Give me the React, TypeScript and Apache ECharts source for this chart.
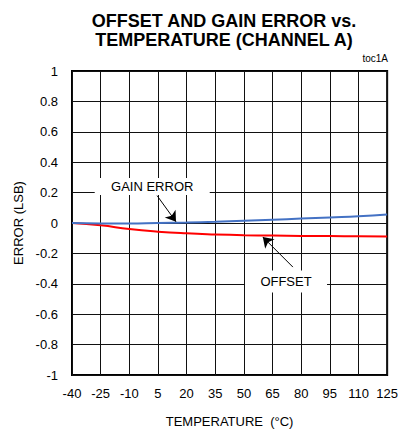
import React, { useEffect, useRef } from "react";
import * as echarts from "echarts";

const temperatures = ["-40", "-25", "-10", "5", "20", "35", "50", "65", "80", "95", "110", "125"];
const gainError = [0, -0.003, -0.003, 0.0, 0.003, 0.008, 0.014, 0.021, 0.029, 0.037, 0.045, 0.056];
const offsetError = [0, -0.015, -0.04, -0.057, -0.068, -0.075, -0.08, -0.083, -0.085, -0.086, -0.087, -0.088];
const yTicks = [-1, -0.8, -0.6, -0.4, -0.2, 0, 0.2, 0.4, 0.6, 0.8, 1];

// annotation anchors in data space (x = temperature index, y = error)
const gainLabelAt = [2.8, 0.24];
const gainArrow = [[2.97, 0.18], [3.63, 0.008]];
const offsetLabelAt = [7.47, -0.385];
const offsetArrow = [[7.71, -0.29], [6.66, -0.092]];

const FONT = "'Liberation Sans', Arial, sans-serif";

export default function App() {
  const ref = useRef<HTMLDivElement>(null);
  useEffect(() => {
    if (!ref.current) return;
    const chart = echarts.init(ref.current, null, { renderer: "svg" });
    const fmtY = (v: number) => String(parseFloat(v.toFixed(1)));
    chart.setOption({
      animation: false,
      backgroundColor: "#fff",
      title: {
        text: "OFFSET AND GAIN ERROR vs.\nTEMPERATURE (CHANNEL A)",
        left: 219,
        top: 6,
        textAlign: "center",
        textStyle: {
          fontFamily: FONT,
          fontSize: 18,
          fontWeight: "bold",
          lineHeight: 19,
          color: "#000",
        },
      },
      graphic: [
        {
          type: "text",
          right: 13,
          top: 53,
          style: { text: "toc1A", font: "10px 'Liberation Sans', Arial, sans-serif", fill: "#000" },
        },
      ],
      grid: { left: 72, right: 11, top: 71, bottom: 59, show: true, borderColor: "#000", borderWidth: 2, backgroundColor: "transparent" },
      xAxis: {
        type: "value",
        min: 0,
        max: temperatures.length - 1,
        interval: 1,
        name: "TEMPERATURE  (°C)",
        nameLocation: "middle",
        nameGap: 40,
        nameTextStyle: { fontFamily: FONT, fontSize: 13, color: "#000" },
        axisLine: { show: false, lineStyle: { color: "#000" } },
        axisTick: { show: false },
        axisLabel: {
          formatter: (v: number) => temperatures[Math.round(v)] ?? "",
          fontFamily: FONT,
          fontSize: 13,
          color: "#000",
          margin: 12,
        },
        splitLine: { show: true, lineStyle: { color: "#111", width: 1 } },
      },
      yAxis: {
        type: "value",
        min: yTicks[0],
        max: yTicks[yTicks.length - 1],
        interval: 0.2,
        name: "ERROR (LSB)",
        nameLocation: "middle",
        nameGap: 44,
        nameTextStyle: { fontFamily: FONT, fontSize: 13, color: "#000" },
        axisLine: { show: false, lineStyle: { color: "#000" } },
        axisTick: { show: false },
        axisLabel: { formatter: fmtY, fontFamily: FONT, fontSize: 13, color: "#000", margin: 14 },
        splitLine: { show: true, lineStyle: { color: "#111", width: 1 } },
      },
      series: [
        {
          name: "OFFSET",
          type: "line",
          smooth: true,
          symbol: "none",
          data: offsetError.map((v, i) => [i, v]),
          lineStyle: { color: "#ff0000", width: 2 },
          z: 3,
          markPoint: {
            silent: true,
            data: [
              {
                coord: offsetLabelAt,
                symbol: "rect",
                symbolSize: [82, 22],
                itemStyle: { color: "#fff" },
                label: { show: true, formatter: "OFFSET", color: "#000", fontFamily: FONT, fontSize: 13 },
              },
            ],
          },
          markLine: {
            silent: true,
            symbol: ["none", "arrow"],
            symbolSize: 10,
            label: { show: false },
            lineStyle: { color: "#000", width: 1, type: "solid" },
            data: [[{ coord: offsetArrow[0] }, { coord: offsetArrow[1] }]],
          },
        },
        {
          name: "GAIN ERROR",
          type: "line",
          smooth: true,
          symbol: "none",
          data: gainError.map((v, i) => [i, v]),
          lineStyle: { color: "#4472c4", width: 2 },
          z: 4,
          markPoint: {
            silent: true,
            data: [
              {
                coord: gainLabelAt,
                symbol: "rect",
                symbolSize: [115, 17],
                itemStyle: { color: "#fff" },
                label: { show: true, formatter: "GAIN ERROR", color: "#000", fontFamily: FONT, fontSize: 13 },
              },
            ],
          },
          markLine: {
            silent: true,
            symbol: ["none", "arrow"],
            symbolSize: 10,
            label: { show: false },
            lineStyle: { color: "#000", width: 1, type: "solid" },
            data: [[{ coord: gainArrow[0] }, { coord: gainArrow[1] }]],
          },
        },
      ],
    });
    return () => chart.dispose();
  }, []);
  return <div ref={ref} style={{ position: "absolute", left: 0, top: 0, width: 401, height: 434 }} />;
}
